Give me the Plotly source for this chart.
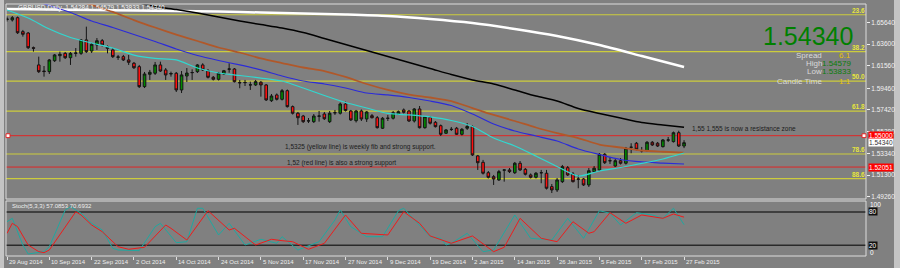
import plotly.graph_objects as go
import pandas as pd

# ---------------- data ----------------
holidays = ["2014-12-25", "2015-01-01"]
dates = [d for d in pd.bdate_range("2014-08-29", "2015-02-27") if d.strftime("%Y-%m-%d") not in holidays]

opens = [
    1.6592, 1.6588, 1.6609, 1.6478, 1.6465, 1.6327, 1.6165, 1.6108, 1.6102, 1.6205,
    1.6252, 1.6274, 1.6233, 1.6274, 1.6274, 1.6400, 1.6296, 1.6353, 1.6393, 1.6337,
    1.6306, 1.6237, 1.6243, 1.6212, 1.6181, 1.6149, 1.5961, 1.6077, 1.6087, 1.6165,
    1.6118, 1.6080, 1.6087, 1.5930, 1.6061, 1.6092, 1.6102, 1.6165, 1.6111, 1.6049,
    1.6030, 1.6080, 1.6125, 1.6127, 1.6000, 1.5998, 1.5977, 1.5977, 1.6002, 1.5977,
    1.5829, 1.5883, 1.5842, 1.5923, 1.5773, 1.5711, 1.5685, 1.5638, 1.5632, 1.5683,
    1.5704, 1.5632, 1.5715, 1.5711, 1.5798, 1.5732, 1.5641, 1.5732, 1.5657, 1.5688,
    1.5669, 1.5570, 1.5663, 1.5664, 1.5701, 1.5742, 1.5732, 1.5638, 1.5751, 1.5575,
    1.5673, 1.5626, 1.5594, 1.5523, 1.5558, 1.5570, 1.5513, 1.5570, 1.5585, 1.5310,
    1.5250, 1.5152, 1.5115, 1.5084, 1.5176, 1.5178, 1.5152, 1.5241, 1.5184, 1.5131,
    1.5109, 1.5151, 1.5147, 1.5021, 1.4990, 1.5068, 1.5199, 1.5140, 1.5093, 1.5093,
    1.5037, 1.5162, 1.5178, 1.5325, 1.5264, 1.5215, 1.5265, 1.5241, 1.5392, 1.5429,
    1.5358, 1.5359, 1.5438, 1.5429, 1.5397, 1.5458, 1.5444, 1.5528, 1.5403]
highs = [
    1.6620, 1.6625, 1.6620, 1.6494, 1.6475, 1.6338, 1.6243, 1.6155, 1.6221, 1.6268,
    1.6290, 1.6287, 1.6287, 1.6324, 1.6409, 1.6525, 1.6371, 1.6418, 1.6409, 1.6348,
    1.6324, 1.6259, 1.6259, 1.6259, 1.6193, 1.6165, 1.6099, 1.6118, 1.6193, 1.6196,
    1.6136, 1.6102, 1.6099, 1.6108, 1.6136, 1.6124, 1.6174, 1.6181, 1.6127, 1.6061,
    1.6099, 1.6118, 1.6181, 1.6136, 1.6024, 1.6024, 1.6008, 1.6024, 1.6014, 1.5986,
    1.5892, 1.5897, 1.5939, 1.5934, 1.5784, 1.5723, 1.5695, 1.5666, 1.5704, 1.5732,
    1.5723, 1.5732, 1.5742, 1.5812, 1.5820, 1.5742, 1.5742, 1.5746, 1.5732, 1.5704,
    1.5685, 1.5676, 1.5695, 1.5732, 1.5737, 1.5756, 1.5742, 1.5760, 1.5779, 1.5685,
    1.5685, 1.5638, 1.5605, 1.5563, 1.5582, 1.5582, 1.5572, 1.5619, 1.5596, 1.5319,
    1.5272, 1.5168, 1.5131, 1.5178, 1.5184, 1.5196, 1.5253, 1.5262, 1.5196, 1.5145,
    1.5159, 1.5178, 1.5178, 1.5046, 1.5102, 1.5225, 1.5215, 1.5159, 1.5131, 1.5102,
    1.5196, 1.5215, 1.5337, 1.5337, 1.5300, 1.5281, 1.5290, 1.5394, 1.5429, 1.5441,
    1.5394, 1.5450, 1.5450, 1.5441, 1.5469, 1.5488, 1.5539, 1.5547, 1.54579]
lows = [
    1.6573, 1.6573, 1.6456, 1.6431, 1.6315, 1.6290, 1.6089, 1.6055, 1.6080, 1.6193,
    1.6196, 1.6221, 1.6165, 1.6243, 1.6259, 1.6277, 1.6277, 1.6306, 1.6338, 1.6274,
    1.6230, 1.6212, 1.6202, 1.6165, 1.6127, 1.5948, 1.5948, 1.6024, 1.6071, 1.6099,
    1.6024, 1.6055, 1.5911, 1.5901, 1.6005, 1.6024, 1.6089, 1.6108, 1.6038, 1.6019,
    1.6019, 1.6071, 1.6092, 1.6000, 1.5946, 1.5967, 1.5930, 1.5967, 1.5867, 1.5826,
    1.5817, 1.5831, 1.5831, 1.5765, 1.5699, 1.5601, 1.5619, 1.5619, 1.5619, 1.5632,
    1.5648, 1.5619, 1.5695, 1.5699, 1.5727, 1.5638, 1.5624, 1.5638, 1.5629, 1.5662,
    1.5568, 1.5563, 1.5638, 1.5652, 1.5695, 1.5709, 1.5629, 1.5624, 1.5568, 1.5566,
    1.5605, 1.5577, 1.5497, 1.5516, 1.5544, 1.5507, 1.5502, 1.5554, 1.5309, 1.5178,
    1.5135, 1.5098, 1.5037, 1.5074, 1.5068, 1.5149, 1.5140, 1.5168, 1.5126, 1.5098,
    1.5098, 1.5053, 1.4994, 1.4961, 1.4971, 1.5055, 1.5121, 1.5060, 1.5006, 1.5027,
    1.5018, 1.5154, 1.5168, 1.5234, 1.5234, 1.5206, 1.5229, 1.5229, 1.5335, 1.5361,
    1.5342, 1.5347, 1.5403, 1.5394, 1.5389, 1.5441, 1.5436, 1.5394, 1.53833]
closes = [
    1.6597, 1.6609, 1.6468, 1.6453, 1.6327, 1.6322, 1.6102, 1.6103, 1.6212, 1.6259,
    1.6265, 1.6233, 1.6274, 1.6277, 1.6400, 1.6290, 1.6359, 1.6393, 1.6353, 1.6321,
    1.6243, 1.6240, 1.6212, 1.6190, 1.6139, 1.5961, 1.6080, 1.6096, 1.6165, 1.6108,
    1.6071, 1.6084, 1.5930, 1.6071, 1.6089, 1.6094, 1.6165, 1.6118, 1.6049, 1.6030,
    1.6087, 1.6111, 1.6127, 1.6008, 1.5997, 1.6000, 1.5978, 1.6008, 1.5977, 1.5836,
    1.5873, 1.5842, 1.5923, 1.5773, 1.5711, 1.5669, 1.5632, 1.5640, 1.5685, 1.5685,
    1.5659, 1.5711, 1.5716, 1.5798, 1.5737, 1.5648, 1.5732, 1.5657, 1.5723, 1.5669,
    1.5575, 1.5664, 1.5664, 1.5716, 1.5726, 1.5720, 1.5638, 1.5751, 1.5575, 1.5679,
    1.5617, 1.5585, 1.5513, 1.5554, 1.5560, 1.5513, 1.5560, 1.5586, 1.5319, 1.5246,
    1.5147, 1.5109, 1.5093, 1.5162, 1.5178, 1.5162, 1.5241, 1.5178, 1.5137, 1.5109,
    1.5147, 1.5152, 1.5006, 1.4990, 1.5084, 1.5209, 1.5131, 1.5068, 1.5091, 1.5037,
    1.5171, 1.5194, 1.5325, 1.5246, 1.5265, 1.5265, 1.5241, 1.5382, 1.5391, 1.5372,
    1.5359, 1.5438, 1.5413, 1.5403, 1.5460, 1.5460, 1.5528, 1.5403, 1.5434]

# moving averages read every 4 bars (white every 8 bars)
ma_bars = list(range(0, 129, 4))
ma_cyan = [1.6682, 1.6606, 1.6503, 1.6423, 1.6371, 1.6324, 1.6258, 1.6226, 1.6212, 1.6136, 1.6089,
           1.6066, 1.6042, 1.6014, 1.5948, 1.5878, 1.5812, 1.5760, 1.5709, 1.5695, 1.5676, 1.5643,
           1.5586, 1.5478, 1.5403, 1.5309, 1.5210, 1.5121, 1.5168, 1.5201, 1.5239, 1.5281, 1.5337]
ma_blue = [1.6851, 1.6785, 1.6724, 1.6658, 1.6578, 1.6517, 1.6451, 1.6385, 1.6315, 1.6254, 1.6207,
           1.6165, 1.6118, 1.6061, 1.6014, 1.5986, 1.5948, 1.5901, 1.5883, 1.5859, 1.5826, 1.5784,
           1.5704, 1.5610, 1.5544, 1.5497, 1.5450, 1.5375, 1.5323, 1.5276, 1.5253, 1.5243, 1.5234]
ma_brown = [1.6982, 1.6921, 1.6860, 1.6794, 1.6729, 1.6663, 1.6587, 1.6517, 1.6451, 1.6390, 1.6329,
            1.6282, 1.6226, 1.6183, 1.6141, 1.6108, 1.6052, 1.5986, 1.5930, 1.5887, 1.5859, 1.5826,
            1.5760, 1.5695, 1.5638, 1.5577, 1.5525, 1.5478, 1.5417, 1.5389, 1.5361, 1.5349, 1.5340]
ma_black = [1.7086, 1.7029, 1.6982, 1.6926, 1.6869, 1.6813, 1.6761, 1.6714, 1.6686, 1.6653, 1.6616,
            1.6578, 1.6545, 1.6512, 1.6470, 1.6414, 1.6357, 1.6301, 1.6244, 1.6188, 1.6132, 1.6075,
            1.6024, 1.5986, 1.5930, 1.5873, 1.5826, 1.5756, 1.5709, 1.5666, 1.5624, 1.5601, 1.5579]
white_bars = list(range(0, 129, 8))
ma_white = [1.6691, 1.6686, 1.6681, 1.6677, 1.6672, 1.6667, 1.6658, 1.6649, 1.6639, 1.6625,
            1.6597, 1.6559, 1.6503, 1.6437, 1.6352, 1.6249, 1.6145]

# stochastic (5,3,3)
k_bars = [0, 1, 3, 4, 7, 8, 11, 12, 14, 16, 18, 20, 21, 25, 28, 29, 32, 34, 36, 37, 40, 42, 45, 48, 51, 52,
          55, 59, 62, 63, 65, 68, 71, 74, 75, 77, 80, 82, 83, 84, 87, 90, 92, 96, 99, 103, 106, 109, 112,
          114, 116, 119, 122, 124, 126, 128]
k_vals = [62.5, 68.6, 20.5, 4.3, 8.5, 17.5, 83.6, 89.5, 77.7, 59.6, 47.6, 14.6, 11.5, 10.3, 53.5, 59.6,
          24.7, 26.5, 86.7, 86.7, 38.6, 59.6, 20.5, 30.8, 23.6, 35.5, 11.5, 26.5, 65.6, 83.6, 53.5, 35.5,
          35.5, 82.3, 86.7, 65.6, 35.5, 32.6, 20.5, 23.6, 41.6, 8.5, 11.5, 74.6, 32.6, 29.5, 68.6, 32.6,
          82.3, 77.7, 56.6, 78.7, 74.6, 68.6, 86.7, 57.0853]
d_bars = [0, 1, 2, 4, 6, 7, 8, 11, 13, 14, 16, 18, 21, 23, 26, 30, 31, 34, 38, 42, 43, 47, 50, 52, 54, 57,
          60, 64, 67, 72, 75, 78, 80, 84, 88, 92, 94, 97, 101, 104, 107, 110, 111, 114, 117, 120, 124, 126, 128]
d_vals = [41.6, 59.6, 53.5, 20.5, 8.5, 6.7, 11.5, 53.5, 80.5, 74.6, 56.6, 44.5, 17.5, 12.8, 16.4, 56.6,
          50.6, 29.5, 82.3, 47.6, 50.6, 20.5, 30.8, 28.3, 26.5, 12.8, 23.6, 74.6, 41.6, 38.6, 80.5, 59.6,
          36.8, 23.6, 36.8, 8.5, 16.4, 68.6, 32.6, 26.5, 62.5, 41.6, 44.5, 78.7, 59.6, 74.6, 68.6, 76.4, 70.6932]

fib_levels = [1.6637, 1.6290, 1.6012, 1.5731, 1.5328, 1.5097]
fib_labels = ["23.6", "38.2", "50.0", "61.8", "78.6", "88.6"]
red_levels = [1.55000, 1.52051]
red_labels = ["1.55000", "1.52051"]
price_ticks = [1.65640, 1.63600, 1.61560, 1.59460, 1.57420, 1.55380, 1.53340, 1.51300, 1.49260]
price_tick_text = ["1.65640", "1.63600", "1.61560", "1.59460", "1.57420", "1.55380", "1.53340", "1.51300", "1.49260"]
last_price = 1.54340
info_rows = [("Spread", "6.1"), ("High", "1.54579"), ("Low", "1.53833"), ("Candle Time", "1:1")]

notes = [
    (129.1, 1.5563, "1,55 1,555 is now a resistance zone"),
    (52.2, 1.5393, "1,5325 (yellow line) is weekly fib and strong support."),
    (52.6, 1.5241, "1,52 (red line) is also a strong support"),
]

# ---------------- layout helpers ----------------
W, H = 900, 268
ML, MR, MT, MB = 6, 34, 4, 12
PW, PH = W - ML - MR, H - MT - MB


def px(xp):
    return (xp - ML) / PW


def py(yp):
    return (H - MB - yp) / PH


FONT = "Liberation Sans, Arial, sans-serif"
n = len(dates)
xs = list(range(n))
tick_idx = list(range(0, n, 8))

fig = go.Figure()
fig.add_trace(go.Candlestick(
    x=xs, open=opens, high=highs, low=lows, close=closes,
    increasing=dict(line=dict(color="#141414", width=1), fillcolor="#008a00"),
    decreasing=dict(line=dict(color="#141414", width=1), fillcolor="#ff1010"),
    whiskerwidth=0, xaxis="x", yaxis="y", hoverinfo="skip"))

for vals, bars, col, wd in [(ma_white, white_bars, "#ffffff", 2.5), (ma_black, ma_bars, "#000000", 1.5),
                            (ma_brown, ma_bars, "#b0582a", 1.8), (ma_blue, ma_bars, "#2b2bd8", 1.2),
                            (ma_cyan, ma_bars, "#30d8d0", 1.2)]:
    fig.add_trace(go.Scatter(x=bars, y=vals, mode="lines", xaxis="x", yaxis="y",
                             line=dict(color=col, width=wd, shape="spline", smoothing=0.7), hoverinfo="skip"))

fig.add_trace(go.Scatter(x=k_bars, y=k_vals, mode="lines", xaxis="x2", yaxis="y2",
                         line=dict(color="#1fa8a0", width=1), hoverinfo="skip"))
fig.add_trace(go.Scatter(x=d_bars, y=d_vals, mode="lines", xaxis="x2", yaxis="y2",
                         line=dict(color="#ee1c1c", width=1), hoverinfo="skip"))

shapes = []
annots = []
# light window edges
shapes.append(dict(type="rect", xref="paper", yref="paper", x0=px(0), x1=px(4), y0=py(H), y1=py(0),
                   fillcolor="#c4c4c4", line=dict(width=0), layer="below"))
shapes.append(dict(type="rect", xref="paper", yref="paper", x0=px(894), x1=px(W), y0=py(H), y1=py(0),
                   fillcolor="#c4c4c4", line=dict(width=0), layer="below"))
# panel borders
shapes.append(dict(type="rect", xref="paper", yref="paper", x0=0, x1=1, y0=py(199), y1=1,
                   line=dict(color="#dcdcdc", width=1)))
shapes.append(dict(type="rect", xref="paper", yref="paper", x0=0, x1=1, y0=0, y1=py(201),
                   line=dict(color="#dcdcdc", width=1)))

for lv, lb in zip(fib_levels, fib_labels):
    shapes.append(dict(type="line", xref="paper", yref="y", x0=0, x1=1, y0=lv, y1=lv,
                       line=dict(color="#cccc3c", width=1.2), layer="below"))
    annots.append(dict(xref="paper", yref="y", x=px(866), y=lv, xanchor="right", yanchor="bottom",
                       text="<b>%s</b>" % lb, showarrow=False, borderpad=0,
                       font=dict(size=6.5, color="#e6e63c", family=FONT)))
for lv, lb in zip(red_levels, red_labels):
    shapes.append(dict(type="line", xref="paper", yref="y", x0=0, x1=1, y0=lv, y1=lv,
                       line=dict(color="#e02626", width=1), layer="below"))
    annots.append(dict(xref="paper", yref="y", x=px(868), y=lv, xanchor="left", yanchor="middle",
                       text=lb, showarrow=False, bgcolor="#ff0000", borderpad=0,
                       font=dict(size=6.5, color="#ffffff", family=FONT)))
# anchors of the 1.55 line
for xx in (6, 862):
    shapes.append(dict(type="rect", xref="paper", yref="y", x0=px(xx), x1=px(xx + 4),
                       y0=red_levels[0] - 0.0018, y1=red_levels[0] + 0.0018,
                       fillcolor="#ffffff", line=dict(color="#e02626", width=1)))
annots.append(dict(xref="paper", yref="y", x=px(868), y=last_price, xanchor="left", yanchor="middle",
                   text="%.5f" % last_price, showarrow=False, bgcolor="#ffffff", borderpad=0,
                   font=dict(size=6.5, color="#333333", family=FONT)))

# stochastic levels
for lv in (80, 20):
    shapes.append(dict(type="line", xref="paper", yref="y2", x0=0, x1=1, y0=lv, y1=lv,
                       line=dict(color="#2a2a2a", width=1.5), layer="below"))
    annots.append(dict(xref="paper", yref="y2", x=px(868), y=lv, xanchor="left", yanchor="middle",
                       text=str(lv), showarrow=False, bgcolor="#101010", borderpad=0,
                       font=dict(size=6.5, color="#ffffff", family=FONT)))
for lv, lab in ((93, "100"), (7.5, "0")):
    annots.append(dict(xref="paper", yref="y2", x=px(868), y=lv, xanchor="left", yanchor="middle",
                       text=lab, showarrow=False, font=dict(size=6.5, color="#ffffff", family=FONT)))
annots.append(dict(xref="paper", yref="paper", x=px(10), y=py(206), xanchor="left", yanchor="middle",
                   text="Stoch(5,3,3) %.4f %.4f" % (k_vals[-1], d_vals[-1]), showarrow=False,
                   font=dict(size=6, color="#eeeeee", family=FONT)))

# date labels
for i in tick_idx:
    d = dates[i]
    annots.append(dict(xref="x2", yref="paper", x=i, y=0, xanchor="left", yanchor="top", yshift=-1,
                       text="%d %s" % (d.day, d.strftime("%b %Y")), showarrow=False,
                       font=dict(size=6, color="#eeeeee", family=FONT)))

# header
annots.append(dict(xref="paper", yref="paper", x=px(16), y=py(8), xanchor="left", yanchor="middle",
                   text="GBPUSD,Daily  1.54284 1.54579 1.53833 1.54340", showarrow=False,
                   font=dict(size=6.5, color="#f4f4f4", family=FONT)))

# info panel
annots.append(dict(xref="paper", yref="paper", x=px(854), y=py(36), xanchor="right", yanchor="middle",
                   text="%.5f" % last_price, showarrow=False, borderpad=0,
                   font=dict(size=25, color="#008000", family=FONT)))
row_y = [55.5, 63.5, 71.5, 81.5]
val_cols = ["#e8c400", "#0b7d0b", "#0b7d0b", "#e8c400"]
for (lab, val), yy, vc in zip(info_rows, row_y, val_cols):
    annots.append(dict(xref="paper", yref="paper", x=px(823), y=py(yy), xanchor="right", yanchor="middle",
                       text=lab, showarrow=False, borderpad=0, font=dict(size=8, color="#dadada", family=FONT)))
    annots.append(dict(xref="paper", yref="paper", x=px(852), y=py(yy), xanchor="right", yanchor="middle",
                       text=val, showarrow=False, borderpad=0, font=dict(size=8, color=vc, family=FONT)))

for bx, by, txt in notes:
    annots.append(dict(xref="x", yref="y", x=bx, y=by, xanchor="left", yanchor="middle", text=txt,
                       showarrow=False, font=dict(size=6.5, color="#1c1c1c", family=FONT)))

x_range = [-0.19, 162.4]
fig.update_layout(
    width=W, height=H, margin=dict(l=ML, r=MR, t=MT, b=MB),
    paper_bgcolor="#808080", plot_bgcolor="#808080", showlegend=False,
    font=dict(family=FONT, size=7, color="#ffffff"),
    shapes=shapes, annotations=annots,
    xaxis=dict(domain=[0, 1], range=x_range, anchor="y", showticklabels=False, showgrid=False,
               zeroline=False, rangeslider=dict(visible=False), ticks=""),
    xaxis2=dict(domain=[0, 1], range=x_range, anchor="y2", matches="x", showticklabels=False,
                showgrid=False, zeroline=False, tickmode="array", tickvals=tick_idx, ticks="outside",
                ticklen=3, tickcolor="#e0e0e0"),
    yaxis=dict(domain=[py(199), 1], range=[1.49049, 1.67379], side="right", tickmode="array",
               tickvals=price_ticks, ticktext=price_tick_text, ticks="outside", ticklen=3,
               tickcolor="#eeeeee", tickfont=dict(size=6.5, color="#f2f2f2"), showgrid=False, zeroline=False),
    yaxis2=dict(domain=[0, py(201)], range=[0.7, 99.8], side="right", showticklabels=False,
                showgrid=False, zeroline=False, ticks=""),
)

fig.write_html("out.html", config={"displayModeBar": False})
